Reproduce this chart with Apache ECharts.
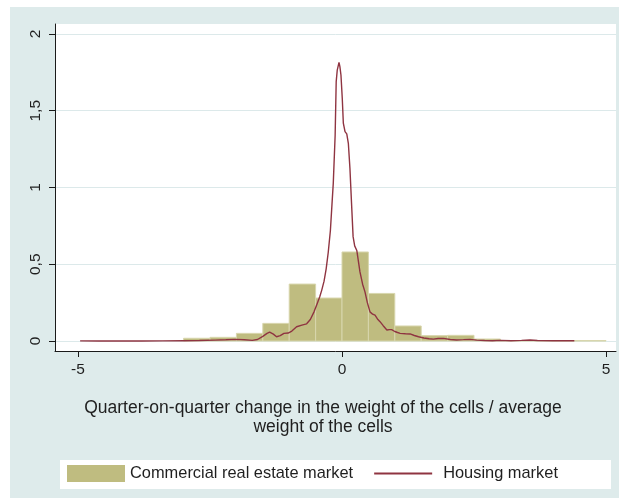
<!DOCTYPE html>
<html>
<head>
<meta charset="utf-8">
<script src="https://cdn.jsdelivr.net/npm/echarts@6/dist/echarts.min.js"></script>
<style>
  html, body { margin: 0; padding: 0; background: #ffffff; }
  #wrap { position: relative; width: 619px; height: 499px; }
  #bg { position: absolute; left: 10px; top: 7px; width: 609px; height: 491px; background: #deebeb; }
  #chart { position: absolute; left: 0; top: 0; width: 619px; height: 499px; }
</style>
</head>
<body>
<div id="wrap">
  <div id="bg"></div>
  <div id="chart"></div>
</div>
<script>
// Histogram bin edges (width 0.5) and the commercial real estate density per bin
const binEdges = [-3, -2.5, -2, -1.5, -1, -0.5, 0, 0.5, 1, 1.5, 2, 2.5, 3, 3.5, 4, 4.5, 5];
const commercialDensity = [0.018, 0.024, 0.05, 0.115, 0.371, 0.28, 0.58, 0.31, 0.098, 0.035, 0.037, 0.013, 0.003, 0.003, 0.003, 0.003];

// Kernel density of the housing market: [change, density]
const housingMarket = [
  [-4.96, 0.001], [-4.6, 0.0], [-4.2, 0.001], [-3.8, 0.0], [-3.4, 0.001], [-3.0, 0.002],
  [-2.7, 0.003], [-2.4, 0.006], [-2.2, 0.008], [-2.0, 0.011], [-1.85, 0.008], [-1.7, 0.004],
  [-1.6, 0.01], [-1.5, 0.03], [-1.42, 0.05], [-1.37, 0.058], [-1.3, 0.045], [-1.24, 0.028],
  [-1.17, 0.035], [-1.1, 0.05], [-1.02, 0.052], [-0.95, 0.065], [-0.86, 0.093], [-0.76, 0.104],
  [-0.67, 0.112], [-0.6, 0.14], [-0.53, 0.19], [-0.48, 0.235], [-0.42, 0.29], [-0.385, 0.33],
  [-0.34, 0.39], [-0.3, 0.47], [-0.26, 0.58], [-0.22, 0.72], [-0.19, 0.89], [-0.165, 1.03],
  [-0.13, 1.34], [-0.11, 1.69], [-0.09, 1.765], [-0.057, 1.815], [-0.04, 1.787], [-0.02, 1.733],
  [0.005, 1.58], [0.025, 1.42], [0.057, 1.364], [0.09, 1.349], [0.12, 1.288], [0.15, 1.125],
  [0.18, 0.9], [0.21, 0.68], [0.24, 0.62], [0.28, 0.59], [0.31, 0.52], [0.34, 0.45],
  [0.39, 0.37], [0.435, 0.32], [0.48, 0.25], [0.53, 0.19], [0.58, 0.175], [0.625, 0.168],
  [0.68, 0.14], [0.72, 0.126], [0.78, 0.1], [0.85, 0.072], [0.9, 0.074], [0.94, 0.074],
  [1.0, 0.062], [1.04, 0.057], [1.1, 0.05], [1.2, 0.047], [1.29, 0.046], [1.37, 0.036],
  [1.45, 0.028], [1.55, 0.02], [1.65, 0.015], [1.73, 0.012], [1.82, 0.016], [1.92, 0.017],
  [2.05, 0.01], [2.17, 0.007], [2.3, 0.009], [2.42, 0.011], [2.55, 0.006], [2.7, 0.003],
  [2.85, 0.002], [3.0, 0.004], [3.2, 0.002], [3.4, 0.004], [3.56, 0.007], [3.7, 0.003],
  [4.0, 0.002], [4.2, 0.002], [4.4, 0.002]
];

const xTicks = [-5, 0, 5];
const yTicks = [0, 0.5, 1, 1.5, 2];

const seriesNames = ['Commercial real estate market', 'Housing market'];
const xTitle = 'Quarter-on-quarter change in the weight of the cells / average\nweight of the cells';

const FONT = '"Liberation Sans", Arial, Helvetica, sans-serif';
const TEXT = '#1f1f1f';
const BAR_FILL = '#bfbc80';
const BAR_EDGE = '#d8d6ad';
const LINE = '#8f3441';
const CLEAR = 'rgba(0,0,0,0)';

const bins = commercialDensity.map((v, i) => [binEdges[i], binEdges[i + 1], v]);

const chart = echarts.init(document.getElementById('chart'), null, { renderer: 'canvas' });

chart.setOption({
  backgroundColor: 'transparent',
  animation: false,
  grid: {
    left: 55, top: 24, width: 561, height: 327,
    show: true, backgroundColor: '#ffffff', borderWidth: 0,
    containLabel: false, outerBoundsMode: 'none'
  },
  xAxis: {
    type: 'value',
    min: -5.4356, max: 5.189,
    axisLine: { onZero: false, lineStyle: { color: '#1a1a1a', width: 1 } },
    axisTick: { customValues: xTicks, length: 6, lineStyle: { color: '#1a1a1a' } },
    axisLabel: {
      customValues: xTicks, margin: 11,
      fontFamily: FONT, fontSize: 15.5, color: TEXT,
      formatter: v => String(v)
    },
    splitLine: { show: false }
  },
  yAxis: {
    type: 'value',
    min: -0.065, max: 2.065,
    axisLine: { show: true, onZero: false, lineStyle: { color: '#1a1a1a', width: 1 } },
    axisTick: { show: true, customValues: yTicks, length: 6, lineStyle: { color: '#1a1a1a' } },
    axisLabel: {
      customValues: yTicks, rotate: 90, margin: 11,
      fontFamily: FONT, fontSize: 15.5, color: TEXT,
      formatter: v => String(v).replace('.', ',')
    },
    splitLine: { show: true, lineStyle: { color: '#dce9ea', width: 1 } }
  },
  legend: {
    left: 67, top: 465,
    padding: 0,
    itemWidth: 58, itemHeight: 17, itemGap: 20,
    textStyle: { fontFamily: FONT, fontSize: 16.4, color: TEXT },
    data: [
      { name: seriesNames[0], icon: 'rect', itemStyle: { color: BAR_FILL, borderWidth: 0 } },
      {
        name: seriesNames[1],
        itemStyle: { color: CLEAR, borderColor: CLEAR, borderWidth: 0 },
        textStyle: { padding: [0, 0, 0, 6] }
      }
    ]
  },
  graphic: [
    {
      type: 'rect', z: -1, silent: true,
      shape: { x: 60, y: 460, width: 551, height: 29 },
      style: { fill: '#ffffff' }
    },
    {
      type: 'text', silent: true,
      x: 323, y: 417.5,
      style: {
        text: xTitle,
        font: '17.5px ' + FONT,
        fill: TEXT,
        align: 'center',
        verticalAlign: 'middle',
        lineHeight: 18.5
      }
    }
  ],
  series: [
    {
      name: seriesNames[0],
      type: 'custom',
      z: 2,
      itemStyle: { color: BAR_FILL },
      encode: { x: [0, 1], y: 2 },
      data: bins,
      renderItem: (params, api) => {
        const topLeft = api.coord([api.value(0), api.value(2)]);
        const bottomRight = api.coord([api.value(1), 0]);
        return {
          type: 'rect',
          shape: {
            x: topLeft[0], y: topLeft[1],
            width: bottomRight[0] - topLeft[0],
            height: bottomRight[1] - topLeft[1]
          },
          style: { fill: BAR_FILL, stroke: BAR_EDGE, lineWidth: 1 }
        };
      }
    },
    {
      name: seriesNames[1],
      type: 'line',
      z: 3,
      data: housingMarket,
      symbol: 'none',
      showSymbol: false,
      smooth: false,
      lineStyle: { color: LINE, width: 1.4 },
      itemStyle: { color: LINE }
    }
  ]
});
</script>
</body>
</html>
